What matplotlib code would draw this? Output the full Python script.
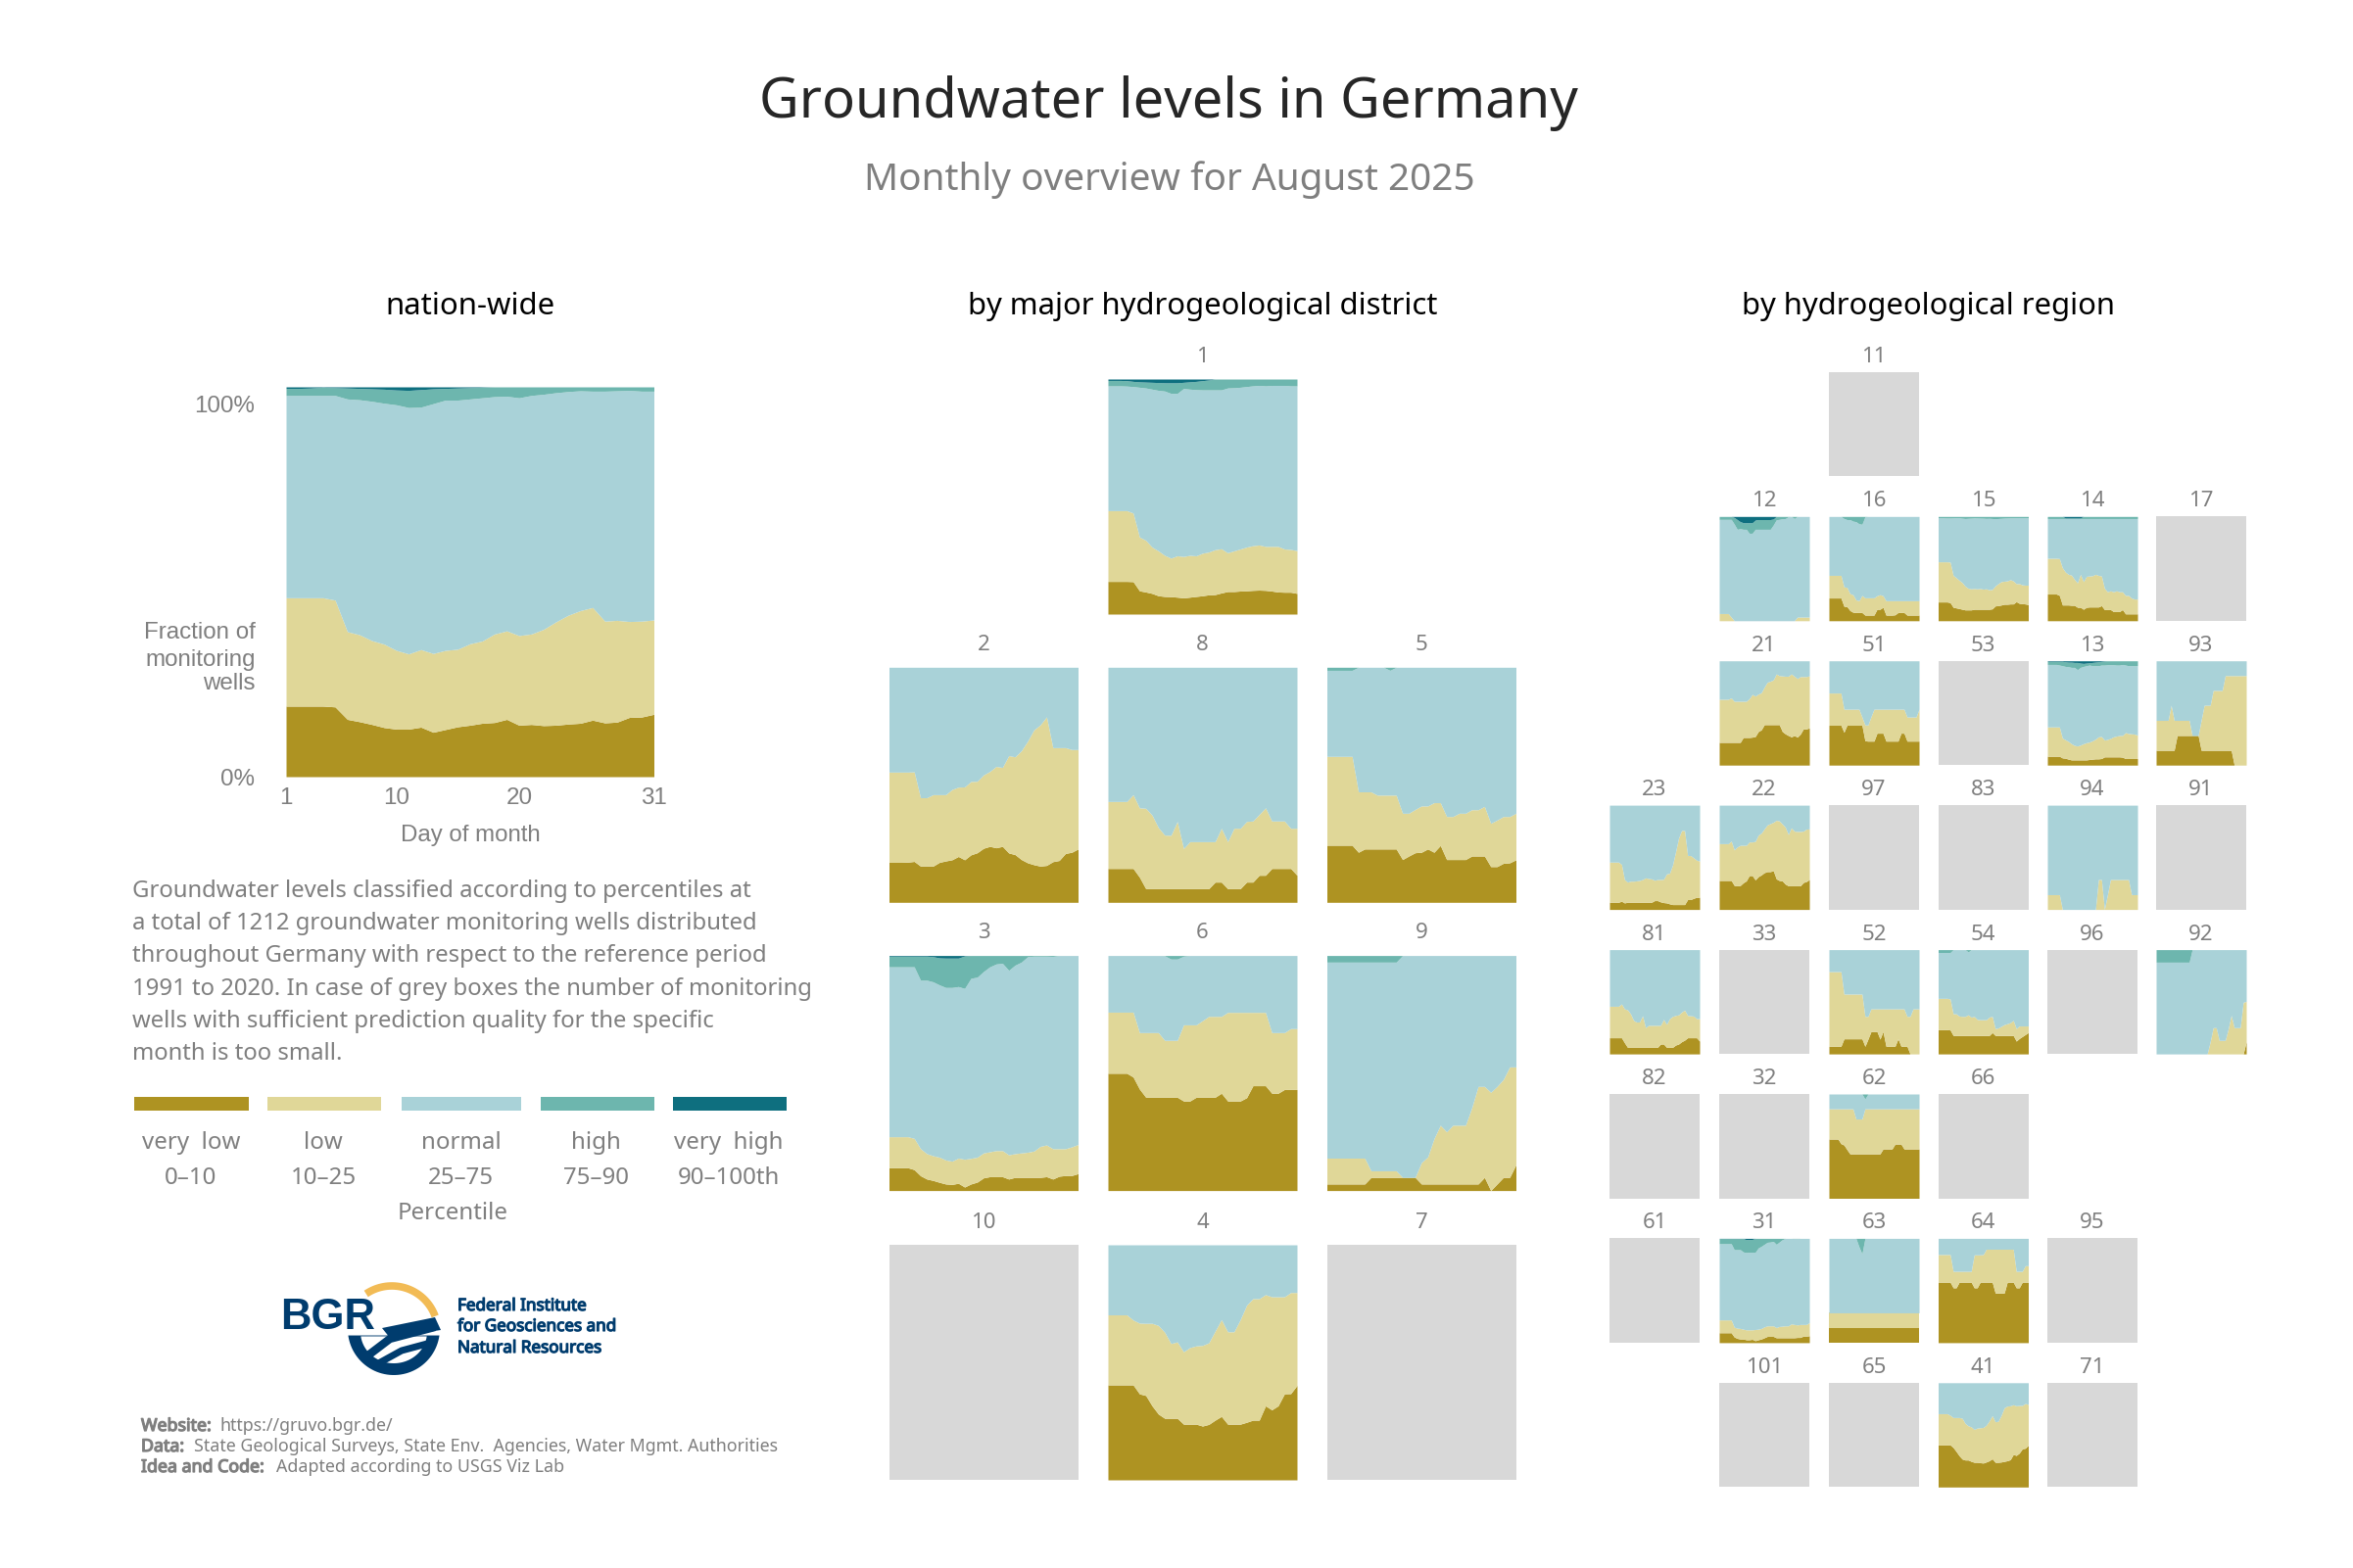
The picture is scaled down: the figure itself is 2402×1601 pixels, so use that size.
import numpy as np
import matplotlib
matplotlib.use('Agg')
import matplotlib.pyplot as plt
import matplotlib.patheffects as pe
from matplotlib.patches import Rectangle, Polygon

W, H = 2402, 1601
plt.rcParams['font.family'] = ['Noto Sans', 'DejaVu Sans']

days = np.arange(1, 32)
colors = ['#AE9322', '#E0D798', '#A9D2D8', '#6DB6AE', '#0E6F7F']
grey = '#D8D8D8'
txt = '#7F7F7F'

# all series: cumulative percent at the top of each class, one value per day
n_vlow = [18.1,18.1,18.1,18.1,17.9,14.7,14.1,13.4,12.6,12.2,12.2,12.7,11.4,12.1,12.8,13.2,13.7,13.9,14.7,13.2,13.4,13.1,13.2,13.5,13.7,14.5,13.8,14.0,15.2,15.3,16.0]
n_low = [45.9,45.9,45.9,45.9,45.3,37.2,36.4,34.9,34.0,32.4,31.5,32.6,31.6,32.4,32.7,34.1,34.8,36.6,37.4,36.2,36.6,37.8,39.7,41.4,42.6,43.4,39.9,40.1,39.8,39.9,40.2]
n_norm = [97.8,97.8,97.8,97.8,97.8,96.9,96.7,96.3,95.8,95.4,94.7,94.8,95.7,96.6,96.6,96.9,97.2,97.5,97.6,97.2,97.8,98.1,98.5,98.8,99.0,98.9,98.9,99.0,99.1,98.9,98.9]
n_high = [99.6,99.6,99.7,99.9,99.8,99.7,99.6,99.5,99.4,99.2,99.1,99.3,99.5,99.6,99.7,99.8,99.9,100,100,100,100,100,100,100,100,100,100,100,100,100,100]

d1_vlow = [13.9,13.9,13.9,13.9,13.8,9.9,9.4,8.8,7.8,7.5,7.4,7.2,6.9,7.2,7.5,7.8,8.2,8.3,9.0,9.6,9.6,9.8,9.9,10.1,10.2,10.1,9.8,9.4,9.3,9.3,8.8]
d1_low = [44,44,44,44,43,32.8,31.4,28.5,26.9,25,23.8,24.8,24.5,25,24.8,25.9,26.4,27.4,27.8,26.1,26.9,27.7,28.5,29.1,29.4,28.8,28.8,28.8,27.7,27.5,27]
d1_norm = [97.1,97.1,97.1,97,96.8,96.5,96.2,95.7,95.2,94.9,93.9,93.9,96,95.7,95.5,95.4,95.4,95.4,95.4,96.2,96.3,96.5,96.8,97.1,97.3,97.1,97.3,97.3,97.3,97.1,97.1]
d1_high = [99.4,99.4,99.4,99.3,99,98.8,98.7,98.6,98.5,98.4,98.4,98.4,98.6,98.8,99,99.3,99.6,100,100,100,100,100,100,100,100,100,100,100,100,100,100]

d2_vlow = [17,17,17,17.1,17.4,15.4,15.4,15.4,17,17.6,18.1,19.5,18.1,20.2,21.1,23,23.8,23.2,23.8,21,20.3,18.2,16.8,16,15.4,15.7,17.3,17.8,20.8,21.3,22.7]
d2_low = [55.4,55.4,55.4,55.4,55.5,44.5,44.5,45.8,45.8,45.8,48,49,49.1,51.4,51.5,54.2,55.7,57.8,57.4,62.4,61.9,64.5,68.6,73.4,75.5,78.9,65.8,65.8,65.8,65,65]

d8_vlow = [14.4,14.4,14.4,14.4,14.4,10.7,5.8,5.8,5.8,5.8,5.8,5.8,5.8,5.8,5.8,5.8,5.8,8.6,8.6,5.8,5.8,5.8,8.6,8.6,11.5,11.5,14.4,14.4,14.4,14.4,11.5]
d8_low = [42.9,42.9,42.9,42.9,45.8,40.2,40,37.1,31.8,28.6,28.5,34.4,22.9,25.8,25.8,25.8,25.8,25.8,31.5,25.8,31.5,31.5,34.4,34.6,37.4,40.2,34.6,34.6,34.6,31.5,31.5]

d5_vlow = [24.3,24.3,24.3,24.3,24.3,21.3,22.7,22.7,22.7,22.7,22.7,22.7,18.2,19.7,21.1,21.3,22.7,21.3,24.2,18.2,18.2,18.2,18.2,19.7,19.7,19.7,15.2,15.2,16.6,16.8,18.1]
d5_low = [62.1,62.1,62.1,62.1,62.1,47,47,47,45.6,45.6,45.6,45.6,37.9,37.9,39.5,41,41,42.4,42.4,36.5,36.5,37.9,37.9,39.4,39.4,40.8,33.6,35,36.5,36.5,37.9]
d5_norm = [98.7,98.7,98.7,98.7,98.7,100,100,100,100,100,98.7,100,100,100,100,100,100,100,100,100,100,100,100,100,100,100,100,100,100,100,100]

d3_vlow = [9.7,9.7,9.7,9.7,8.9,6.3,4.9,4.3,3.5,2.8,2.6,3.1,1.5,2.8,3.6,5.4,5.9,5.9,5.9,4.9,5.6,5.6,5.6,5.6,5.6,5.9,4.9,6.1,6.4,6.4,7.2]
d3_low = [22.9,22.9,22.9,22.9,22.2,17.8,15.7,14.8,14.2,13,12.5,13.8,13.3,13.7,14.2,16,16.5,17,17,15.2,15.7,16,16.3,16.8,18.8,19.4,17.8,17.8,17.8,18.6,19.6]
d3_norm = [95.2,95.2,95.2,95.2,95.2,89.5,89.5,88.8,87.5,86.4,86.4,86.8,86,90.3,90.8,93.2,95.2,96.4,96.7,93.7,95.9,97.2,99.5,99.7,99.7,99.7,99.6,100,100,100,100]
d3_high = [99.7,99.7,99.7,99.7,99.7,99.7,99.7,99.5,99,98.9,98.9,98.9,99.8,100,100,100,100,100,100,100,100,100,100,100,100,100,100,100,100,100,100]

d6_vlow = [49.9,49.9,49.9,49.9,48.3,43.2,39.7,39.7,39.7,39.7,39.7,39.7,38.1,38.1,39.7,39.7,39.7,39.7,41.4,38.1,38.1,38.1,39.5,44.6,44.6,44.6,41.4,41.4,43,43,43]
d6_low = [75.9,75.9,75.9,75.9,75.9,67.2,67.2,67.2,67.2,63.9,63.9,63.9,70.5,70.5,70.5,72.3,74.1,74.1,74.1,75.8,75.8,75.8,75.8,75.8,75.8,75.8,67.2,67.2,67.2,68.9,68.9]
d6_norm = [100,100,100,100,100,100,100,100,100,99.9,98.5,98.5,99.7,100,100,100,100,100,100,100,100,100,100,100,100,100,100,100,100,100,100]

d9_vlow = [2.8,2.8,2.8,2.8,2.8,2.8,2.8,5.6,5.6,5.6,5.6,5.6,5.6,5.6,5.6,2.8,2.8,2.8,2.8,2.8,2.8,2.8,2.8,2.8,2.8,5.6,0,2.8,5.6,5.6,11]
d9_low = [13.8,13.8,13.8,13.8,13.8,13.8,13.8,8.4,8.4,8.4,8.4,8.4,5.6,5.6,5.6,11.9,14.3,22.1,27.8,25,27.8,27.8,27.8,35.3,44.3,44.3,41.8,44.3,47.3,52.6,52.6]
d9_norm = [97.2,97.2,97.2,97.2,97.2,97.2,97.2,97.2,97.2,97.2,97.2,97.2,100,100,100,100,100,100,100,100,100,100,100,100,100,100,100,100,100,100,100]

d4_vlow = [40.4,40.4,40.4,40.4,40.4,36.6,35.9,31.5,28,26.2,26.2,26.2,23.7,23.7,23.7,22.9,23.6,25.4,27,23.7,23.7,23.7,24.5,25.4,25.4,31.5,29.8,31.5,36.6,36.7,40.2]
d4_low = [70.2,70.2,70.2,70.2,68,66.7,66.6,66.6,65.7,62.8,58,58.7,54.5,56.3,57,57.2,58.3,63.3,68.2,63,63,68.2,74.3,77.1,77.1,78.8,77.9,77.9,77.9,79.7,79.7]

r12_low = [6.9,6.9,6.9,6.9,3.5,0,0,0,0,0,0,0,0,0,0,0,0,0,0,0,0,0,0,0,0,0,3.5,3.5,3.5,3.5,3.5]
r12_norm = [97.2,97.2,97.2,97.2,97.2,92.7,87.7,88.3,87.7,87.7,83.9,83.9,87.7,87.7,87.7,87.7,87.7,87.7,91.8,96.8,97.2,97.8,98,99.7,100,98,100,100,100,100,100]
r12_high = [100,100,100,100,100,99,97,95,94,94,94,94,96.5,97,97,97,97,97,97.5,100,100,100,100,100,100,100,100,100,100,100,100]

r16_vlow = [21.8,21.8,21.8,21.8,21.8,13.9,13.6,9.8,8.2,7.9,7.9,7.9,5.4,5.4,5.4,5.4,11,11,12.9,5.4,5.4,5.4,5.7,7.9,7.9,7.9,5.4,5.4,5.4,5.4,5.4]
r16_low = [43.5,43.5,43.5,43.5,43.5,32.5,32,26,25,20,19.2,24.3,22,22,22,22,24,25,24,19.2,19.2,19.2,19.2,19.2,19.2,19.2,19.2,19.2,19.2,19.2,19.2]
r16_norm = [100,100,100,100,100,98,97,97,95.5,95,93,92.5,99.7,100,100,100,100,100,100,100,100,100,100,100,100,100,100,100,100,100,100]

r15_vlow = [18,18,18,18,17.4,12.9,12.3,11.7,11,10.4,10.4,10.4,11,11,11,11,11,11,11.4,14.2,14.5,15.1,15.8,15.8,16.1,16.1,18.3,16.7,16.4,16.1,15.5]
r15_low = [56.5,56.5,56.5,56.5,56.2,43.5,41.3,38.8,36.6,33.1,31.2,30.6,30.9,30.6,30.9,30.3,30.6,29.7,30,33.4,35.6,37.5,37.9,38.2,39.4,38.2,35.6,35.6,34.4,34.1,34.1]
r15_norm = [98.7,98.7,98.6,98.5,98.5,98.6,98.7,98.7,98.3,98,98.2,98.4,98.6,98.5,98.4,98.3,98.1,98.2,98,97.8,98,98.2,98.4,98.5,98.6,98.7,98.7,98.8,98.8,98.7,98.6]

r14_vlow = [25.6,25.6,25.6,25.6,24.3,15.1,15.1,15.1,14.8,14.8,12.9,12.9,11,12.9,13.2,13.2,13.2,13.2,14.5,10.7,10.7,10.7,8.8,8.8,8.8,10.7,6.6,6.6,6.6,6.6,6.6]
r14_low = [59.9,59.9,59.9,59.9,59.6,50.8,46.7,44.5,43.8,39.7,36.3,44.5,37.5,42.6,42.9,43.2,44.5,43.5,42.9,31.2,27.8,28.7,27.8,28.7,27.8,27.8,24.3,24.3,21.8,20.8,20.8]
r14_norm = [98,98,98,98,98,98,98,98,98,98,98,98,98,98,98,98,98,98,98,98,98,98,98,98,98,98,98,98,98,98,98]
r14_high = [100,100,100,100,100,100,98.5,98.5,98.5,98.5,98.5,98.5,100,100,100,100,100,100,100,100,100,100,100,100,100,100,100,100,100,100,100]

r21_vlow = [21.8,21.8,21.8,21.8,21.8,21.8,21.8,21.8,26.5,26.5,26.5,26.8,27.4,32.2,33.8,38.8,38.8,38.8,38.8,38.8,38.8,32.2,30,28.4,27.1,28.4,26.8,29.7,34.7,34.7,35.6]
r21_low = [63.1,63.1,63.1,63.1,64.4,61.2,61.2,61.2,61.2,61.2,63.7,67.8,66.2,68.1,69.4,74.8,79.5,80.4,81.7,87.4,85.8,85.5,85.2,85.2,87.4,85.2,83,84.9,84.9,84.9,85.5]

r51_vlow = [38.2,38.2,38.2,38.2,38.2,31.5,38.2,38.2,38.2,38.2,38.2,38.2,23.3,23,23,23,30.6,30.6,30.6,23,23,23,23,23,30.6,30.6,23,23,23,23,23]
r51_low = [69.1,69.1,69.1,69.1,69.1,53.6,53.6,53.6,53.6,53.6,53.6,46.1,38.5,38.5,46.4,53.6,53.6,53.6,53.6,53.6,53.6,53.6,53.6,53.6,53.6,53.6,46.1,46.1,46.1,46.1,53.6]

r13_vlow = [8.5,8.5,8.5,8.5,8.5,6.9,6.6,5.7,5,5,5,5,5,5,5.4,5.7,6,6,6.3,7.9,7.9,7.9,7.9,7.9,7.9,7.6,6.3,6.3,6.3,6.3,6.3]
r13_low = [36.6,36.6,36.6,36.6,36.6,25.9,24.3,22.7,20.5,18.9,18.3,19.2,20.5,21.5,22.1,23.3,24.9,27.1,27.4,24,24.6,25.6,27.1,27.8,28.4,28.4,31.2,30.3,30,29.7,28.7]
r13_norm = [96.5,96.5,96.5,96.5,95.9,95.3,94.6,94.3,93.7,93.7,91.5,93.7,94.6,95.3,95.9,95.3,95.3,95.3,95.9,95.9,96.2,96.2,96.2,95.9,95.9,96.5,95.9,95.3,95.3,95.3,95.3]
r13_high = [99.4,99.4,99.4,99.4,99.4,99.4,99,98.7,98.7,98.4,98.4,97.8,97.5,97.8,98.1,98.4,98.7,99,99.4,99.7,100,100,100,100,100,100,100,100,100,100,100]

r93_vlow = [14.2,14.2,14.2,14.2,14.2,14.2,14.2,28.4,28.4,28.4,28.4,28.4,28.4,28.4,28.4,14.2,14.2,14.2,14.2,14.2,14.2,14.2,14.2,14.2,14.2,14.2,0,0,0,0,0]
r93_low = [42.9,42.9,42.9,42.9,42.9,57.4,42.9,42.9,42.9,42.9,42.9,42.9,28.4,28.4,28.4,42.9,57.4,57.4,57.4,71.6,71.6,71.6,71.6,85.8,85.8,85.8,85.8,85.8,85.8,85.8,85.8]

r23_vlow = [6.9,6.9,6.9,6.9,7.9,6.3,6.9,6.9,6.9,6.9,6.9,6.9,6.9,6.9,6.9,8.5,8.5,7.3,6.6,6.3,5.4,4.7,4.7,4.7,4.7,4.7,9.5,9.5,10.7,11.7,11.7]
r23_low = [45.4,45.4,45.4,45.4,43.2,28.7,26.2,27.1,27.1,27.4,27.8,28.7,30.3,29.7,29.3,28,28.7,28.7,29,34.1,34.7,42.6,55.2,68.5,75.7,75.7,51.7,51.7,49.5,47.3,46.4]

r22_vlow = [27.8,27.8,27.8,27.8,27.8,23,22.7,23,25.6,27.4,32.5,32.5,28.4,31.5,33.1,35.3,36.3,36.3,37.2,29.3,27.8,27.4,24.3,22.7,22.7,22.7,22.7,22.7,25.9,26.8,28.7]
r22_low = [63.1,63.1,63.1,63.1,65.6,57.1,59.9,61.5,61.5,61.5,64.7,64.7,65.3,71.3,73.2,77.3,81.1,82.3,83.6,85.5,84.9,82,78.9,71.9,78.3,75.1,74.8,74.8,75.1,77,77.3]

r94_low = [14.2,14.2,14.2,14.2,14.2,0,0,0,0,0,0,0,0,0,0,0,0,28.7,28.7,0,14.2,28.7,28.7,28.7,28.7,28.7,28.7,28.7,14.2,14.2,14.2]

r81_vlow = [15.5,15.5,15.5,15.5,15.5,10.7,6.3,6.3,6.3,6.3,6.3,6.3,6.3,6.3,6.3,6.3,6.3,9.5,9.5,6.3,6.3,6.3,8.5,9.5,11.7,13.2,15.5,15.5,15.5,15.5,12.3]
r81_low = [45.7,45.7,45.7,45.7,47.9,43.2,42.3,38.5,32.2,30.6,30.6,36.6,25.2,27.4,27.4,27.4,27.4,27.4,33.1,28.4,33.8,36,36.9,37.5,40.1,42,36.9,36.6,36.3,33.8,33.8]

r52_vlow = [7.3,7.3,7.3,7.3,7.3,14.5,14.5,14.5,14.5,14.5,14.5,14.5,7.3,14.2,21.5,21.5,21.5,14.2,21.5,7.3,7.3,7.3,7.3,14.5,7.3,7.3,7.3,0,0,0,0]
r52_low = [78.9,78.9,78.9,78.9,78.9,57.4,57.4,57.4,57.4,57.4,57.4,57.4,36,36,43.2,43.2,43.2,43.2,43.2,43.2,43.2,43.2,43.2,43.2,43.2,43.2,36,36,43.2,43.2,43.2]

r54_vlow = [23.3,23.3,23.3,23.3,23,17.7,17.7,17.7,17.7,17.7,17.7,17.7,17.7,17.7,17.7,17.7,17.7,17.7,20.5,17.7,17.7,17.7,17.7,17.7,17.7,17.7,12.3,14.8,16.7,18.6,20.5]
r54_low = [53.3,53.3,53.3,53.3,52.7,38.5,38.5,36.3,36,36,37.5,35.3,36,33.1,32.8,32.8,32.8,35.3,36,24.3,24.9,26.5,28.1,29,30,32.2,24.3,26.8,26.8,26.8,26.8]
r54_norm = [97.2,97.2,97.2,97.2,97.2,100,100,100,100,100,97.8,100,100,100,100,100,100,100,100,100,100,100,100,100,100,100,100,100,100,100,100]

r92_vlow = [0,0,0,0,0,0,0,0,0,0,0,0,0,0,0,0,0,0,0,0,0,0,0,0,0,0,0,0,0,0,11.7]
r92_low = [0,0,0,0,0,0,0,0,0,0,0,0,0,0,0,0,0,0,11.7,25.2,25.2,13,13,13,24,37,25.2,25.2,25.2,49.5,50.4]
r92_norm = [88,88,88,88,88,88,88,88,88,88,88,88,100,100,100,100,100,100,100,100,100,100,100,100,100,100,100,100,100,100,100]

r62_vlow = [56.8,56.8,56.8,56.8,52.4,51.1,46.7,42.6,42.6,42.6,42.6,42.6,42.6,42.6,42.6,42.6,42.6,42.6,47.3,47.3,47.3,47.3,52,52,52,47.3,47.3,47.3,47.3,47.3,47.3]
r62_low = [85.8,85.8,85.8,85.8,85.8,85.8,85.8,85.8,85.8,76,76,76,85.8,85.8,85.8,85.8,85.8,85.8,85.8,85.8,85.8,85.8,85.8,85.8,85.8,85.8,85.8,85.8,85.8,85.8,85.8]
r62_norm = [100,100,100,100,100,100,100,100,100,100,100,100,95.3,100,100,100,100,100,100,100,100,100,100,100,100,100,100,100,100,100,100]

r31_vlow = [9.5,9.5,9.5,9.5,9.5,5.4,4.1,3.5,3.5,2.8,2.8,3.2,1.9,2.8,3.5,4.7,6,6,6,4.7,4.7,4.7,4.7,4.7,4.7,4.7,5,5,6.3,6.3,6.6]
r31_low = [21.8,21.8,21.8,21.8,21.8,14.8,13.9,13.6,12.9,12.3,12.3,12.3,12.6,12.9,13.6,15.1,16.1,16.1,16.1,14.5,15.5,15.8,16.1,16.1,18,17.4,17,17.4,17.4,17.4,19.2]
r31_norm = [94.9,94.9,94.9,94.9,94.9,89.2,89.2,89.2,87,86.4,86.7,86.7,86.7,90.8,92.4,94.3,96.2,96.5,97.1,94.3,96.5,98.7,100,100,100,99.8,99.8,100,100,100,100]
r31_high = [99.8,99.8,99.8,99.8,99.8,99.8,99.8,99.8,99.8,98.8,98.8,99,100,100,100,100,100,100,100,100,100,100,100,100,100,100,100,100,100,100,100]

r63_vlow = [14.2,14.2,14.2,14.2,14.2,14.2,14.2,14.2,14.2,14.2,14.2,14.2,14.2,14.2,14.2,14.2,14.2,14.2,14.2,14.2,14.2,14.2,14.2,14.2,14.2,14.2,14.2,14.2,14.2,14.2,14.2]
r63_low = [28.6,28.6,28.6,28.6,28.6,28.6,28.6,28.6,28.6,28.6,28.6,28.6,28.6,28.6,28.6,28.6,28.6,28.6,28.6,28.6,28.6,28.6,28.6,28.6,28.6,28.6,28.6,28.6,28.6,28.6,28.6]
r63_norm = [100,100,100,100,100,100,100,100,100,100,92,85.2,100,100,100,100,100,100,100,100,100,100,100,100,100,100,100,100,100,100,100]

r64_vlow = [58,58,58,58,58,52.6,52.6,58,58,58,58,58,52.6,52.6,58,58,58,58,58,47.6,47.6,47.6,47.6,58,58,58,52.6,52.6,58,58,58]
r64_low = [84.5,84.5,84.5,84.5,84.5,68.4,68.4,68.4,68.4,68.4,68.4,68.4,84.2,84.2,84.2,84.5,89.6,89.6,89.6,89.6,89.6,89.6,89.6,89.6,89.6,89.6,68.4,68.4,68.4,73.8,73.8]

r41_vlow = [40.4,40.4,40.4,40.4,40.4,37.9,34.1,30,26.8,25.9,25.9,24.6,23.7,23.7,23.3,23,24,25.2,27.1,23.7,23.7,24,24.6,25.2,26.2,31.2,30.3,32.5,36.6,37.2,40.1]
r41_low = [70.3,70.3,70.3,70.3,68.8,66.6,66.6,66.6,65.9,60.9,58.7,57.7,55.2,56.5,56.8,57.1,59.3,63.4,68.5,62.5,63.1,68.8,76,77.6,77.9,78.9,77.9,78.2,78.2,80.1,79.2]

# filled panels, name -> series
district_series = {
    '1': (d1_vlow, d1_low, d1_norm, d1_high), '2': (d2_vlow, d2_low), '8': (d8_vlow, d8_low),
    '5': (d5_vlow, d5_low, d5_norm), '3': (d3_vlow, d3_low, d3_norm, d3_high),
    '6': (d6_vlow, d6_low, d6_norm), '9': (d9_vlow, d9_low, d9_norm), '4': (d4_vlow, d4_low),
}
no_vlow = [0] * 31
region_series = {
    '12': (no_vlow, r12_low, r12_norm, r12_high), '16': (r16_vlow, r16_low, r16_norm),
    '15': (r15_vlow, r15_low, r15_norm), '14': (r14_vlow, r14_low, r14_norm, r14_high),
    '21': (r21_vlow, r21_low), '51': (r51_vlow, r51_low), '13': (r13_vlow, r13_low, r13_norm, r13_high),
    '93': (r93_vlow, r93_low), '23': (r23_vlow, r23_low), '22': (r22_vlow, r22_low),
    '94': (no_vlow, r94_low), '81': (r81_vlow, r81_low), '52': (r52_vlow, r52_low),
    '54': (r54_vlow, r54_low, r54_norm), '92': (r92_vlow, r92_low, r92_norm),
    '62': (r62_vlow, r62_low, r62_norm), '31': (r31_vlow, r31_low, r31_norm, r31_high),
    '63': (r63_vlow, r63_low, r63_norm), '64': (r64_vlow, r64_low), '41': (r41_vlow, r41_low),
}

district_grid = [[None, '1', None], ['2', '8', '5'], ['3', '6', '9'], ['10', '4', '7']]
region_grid = [
    [None, None, '11', None, None, None],
    [None, '12', '16', '15', '14', '17'],
    [None, '21', '51', '53', '13', '93'],
    ['23', '22', '97', '83', '94', '91'],
    ['81', '33', '52', '54', '96', '92'],
    ['82', '32', '62', '66', None, None],
    ['61', '31', '63', '64', '95', None],
    [None, '101', '65', '41', '71', None],
]

legend_names = ['very  low', 'low', 'normal', 'high', 'very  high']
legend_ranges = ['0\u201310', '10\u201325', '25\u201375', '75\u201390', '90\u2013100th']

body = ['Groundwater levels classified according to percentiles at',
        'a total of 1212 groundwater monitoring wells distributed',
        'throughout Germany with respect to the reference period',
        '1991 to 2020. In case of grey boxes the number of monitoring',
        'wells with sufficient prediction quality for the specific',
        'month is too small.']

fig = plt.figure(figsize=(W / 100, H / 100), dpi=100, facecolor='white')
bg = fig.add_axes([0, 0, 1, 1])
bg.set_xlim(0, W)
bg.set_ylim(H, 0)
bg.axis('off')


def panel(x0, y0, x1, y1):
    ax = fig.add_axes([x0 / W, 1 - y1 / H, (x1 - x0) / W, (y1 - y0) / H])
    ax.set_xlim(1, 31)
    ax.set_ylim(0, 100)
    ax.set_xticks([])
    ax.set_yticks([])
    for s in ax.spines.values():
        s.set_visible(False)
    return ax


def stack(ax, series):
    # pad missing upper classes with 100
    tops = [np.zeros(31)] + [np.array(s, float) for s in series]
    while len(tops) < 5:
        tops.append(np.full(31, 100.0))
    tops.append(np.full(31, 100.0))
    for i in range(5):
        ax.fill_between(days, tops[i], tops[i + 1], color=colors[i], lw=0)


def small_panels(grid, xs, ys, series, pw, ph, gap, fs):
    for r, row in enumerate(grid):
        for c, name in enumerate(row):
            if name is None:
                continue
            ax = panel(xs[c], ys[r], xs[c] + pw, ys[r] + ph)
            if name in series:
                stack(ax, series[name])
            else:
                ax.set_facecolor(grey)
            bg.text(xs[c] + pw / 2, ys[r] - gap, name, color=txt, fontsize=fs, ha='center', va='center')


def bold_text(x, y, s, color, fs):
    # no bold Noto Sans installed, so thicken the regular face
    t = bg.text(x, y, s, ha='left', va='center', color=color, fontsize=fs)
    t.set_path_effects([pe.withStroke(linewidth=0.9, foreground=color)])
    return t


# nation-wide panel
nat = panel(292, 395, 667.5, 793)
stack(nat, (n_vlow, n_low, n_norm, n_high))
nat.set_xticks([1, 10, 20, 31])
nat.tick_params(axis='x', length=0, pad=8, labelcolor=txt, labelsize=17.4)
for lab in nat.get_xticklabels():
    lab.set_family('Liberation Sans')
for s, y in [('100%', 415), ('0%', 796), ('Fraction of', 646), ('monitoring', 674), ('wells', 698)]:
    bg.text(260.5, y, s, ha='right', va='center', color=txt, fontsize=17.4, family='Liberation Sans')
bg.text(480.5, 853, 'Day of month', ha='center', va='center', color=txt, fontsize=17.3, family='Liberation Sans')

# small multiples
small_panels(district_grid, [907.5, 1131, 1354.5], [387, 681.3, 975.6, 1271], district_series, 193, 240, 23, 16)
small_panels(region_grid, [1643, 1755, 1867, 1978.5, 2090, 2201],
             [380, 527.3, 674.7, 822.1, 969.6, 1117, 1264.4, 1411.8], region_series, 92, 106.5, 15.5, 16)

# headings
bg.text(1193, 105, 'Groundwater levels in Germany', ha='center', va='center', color='#262626', fontsize=40.4)
bg.text(1193.5, 184, 'Monthly overview for August 2025', ha='center', va='center', color=txt, fontsize=27.9)
bg.text(480, 312.5, 'nation-wide', ha='center', va='center', color='black', fontsize=22.4)
bg.text(1228, 312.5, 'by major hydrogeological district', ha='center', va='center', color='black', fontsize=22.3)
bg.text(1968.5, 312.5, 'by hydrogeological region', ha='center', va='center', color='black', fontsize=22.3)

# description
for i, line in enumerate(body):
    bg.text(135, 909.6 + i * 33.3, line, ha='left', va='center', color=txt, fontsize=17.2)

# legend
bar_x = [(137, 254), (273, 389), (410, 532), (552, 668), (687, 803)]
cen_x = [195, 330, 470.5, 608.5, 743.5]
for (a, b), c, cx, n, rng in zip(bar_x, colors, cen_x, legend_names, legend_ranges):
    bg.add_patch(Rectangle((a, 1120), b - a, 14, color=c, lw=0))
    bg.text(cx, 1167, n, ha='center', va='center', color=txt, fontsize=17.3)
    bg.text(cx, 1203, rng, ha='center', va='center', color=txt, fontsize=17.3)
bg.text(462, 1238.5, 'Percentile', ha='center', va='center', color=txt, fontsize=17.3)

# logo
navy = '#003C6E'
bg.text(286, 1345, 'BGR', ha='left', va='center', color=navy, fontsize=31.4, fontweight='bold', family='Liberation Sans')
t = np.radians(np.linspace(20, 124, 40))
bg.plot(400 + 47 * np.cos(t), 1360 - 47 * np.sin(t), color='#F2BB55', lw=5.5, solid_capstyle='butt')
t = np.radians(np.linspace(-8, -172, 50))
bg.add_patch(Polygon(np.c_[402 + 47 * np.cos(t), 1357 - 47 * np.sin(t)], closed=True, color=navy, lw=0))
bg.add_patch(Polygon(np.c_[402 + 34 * np.cos(t), 1360 - 32 * np.sin(t)], closed=True, color='white', lw=0))
bg.plot([373, 398, 440], [1386, 1367, 1356], color=navy, lw=6)
bg.plot([390, 410, 436], [1390, 1379, 1372], color=navy, lw=5)
bg.add_patch(Polygon([(390, 1356), (444, 1345), (450, 1358), (398, 1366)], closed=True, color=navy, lw=0))
for s, y in [('Federal Institute', 1334), ('for Geosciences and', 1355), ('Natural Resources', 1377)]:
    bold_text(467, y, s, navy, 12.3)

# footer
foot = [(1456, 'Website:', 225, 'https://gruvo.bgr.de/'),
        (1477, 'Data:', 197.5, 'State Geological Surveys, State Env.  Agencies, Water Mgmt. Authorities'),
        (1498, 'Idea and Code:', 282, 'Adapted according to USGS Viz Lab')]
for y, a, x, b in foot:
    bold_text(144, y, a, txt, 12.8)
    bg.text(x, y, b, ha='left', va='center', color=txt, fontsize=12.8)

fig.savefig('out.png', dpi=100)
